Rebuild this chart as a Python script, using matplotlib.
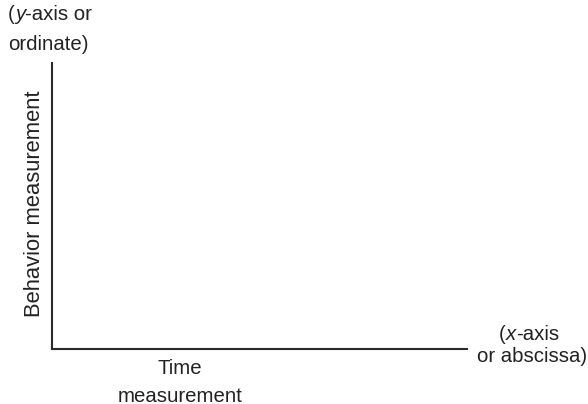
import matplotlib.pyplot as plt

# Labels for the blank axes diagram
y_axis_name = "Behavior measurement"
x_axis_name = ["Time", "measurement"]
y_note = ["(", "y", "-axis or", "ordinate)"]
x_note = ["(", "x", "-axis", "or abscissa)"]

plt.rcParams['font.family'] = ['Liberation Sans', 'DejaVu Sans']
fs = 14.7
col = '#222222'

fig = plt.figure(figsize=(5.88, 4.04), dpi=100)
ax = fig.add_axes([52/588, 1 - 349/404, (467 - 52)/588, (349 - 63)/404])
ax.set_xlim(0, 1)
ax.set_ylim(0, 1)
ax.set_xticks([])
ax.set_yticks([])
for s in ['top', 'right']:
    ax.spines[s].set_visible(False)
for s in ['left', 'bottom']:
    ax.spines[s].set_color('#2b2b2b')
    ax.spines[s].set_linewidth(1.5)

# y-axis label
fig.text(35/588, 1 - 204/404, y_axis_name, rotation=90, ha='center', va='center',
         fontsize=15.8, color=col)

# x-axis label
fig.text(180/588, 1 - 368/404, x_axis_name[0], ha='center', va='center', fontsize=fs, color=col)
fig.text(180/588, 1 - 396/404, x_axis_name[1], ha='center', va='center', fontsize=fs, color=col)

fig.canvas.draw()
r = fig.canvas.get_renderer()


def chain(x, y, parts, styles):
    # place text pieces one after another so one letter can be italic
    xpix = x * 588
    for p, st in zip(parts, styles):
        tt = fig.text(xpix / 588, y, p, ha='left', va='center', fontsize=fs, color=col, style=st)
        bb = tt.get_window_extent(renderer=r)
        xpix = bb.x1


# notes: "(y-axis or" / "ordinate)"
chain(8/588, 1 - 15/404, y_note[:3], ['normal', 'italic', 'normal'])
fig.text(8/588, 1 - 45/404, y_note[3], ha='left', va='center', fontsize=fs, color=col)

# notes: "(x-axis" / "or abscissa)"
chain(499/588, 1 - 334/404, x_note[:3], ['normal', 'italic', 'normal'])
fig.text(587/588, 1 - 357/404, x_note[3], ha='right', va='center', fontsize=fs, color=col)

fig.savefig('out.png', dpi=100, facecolor='white')
